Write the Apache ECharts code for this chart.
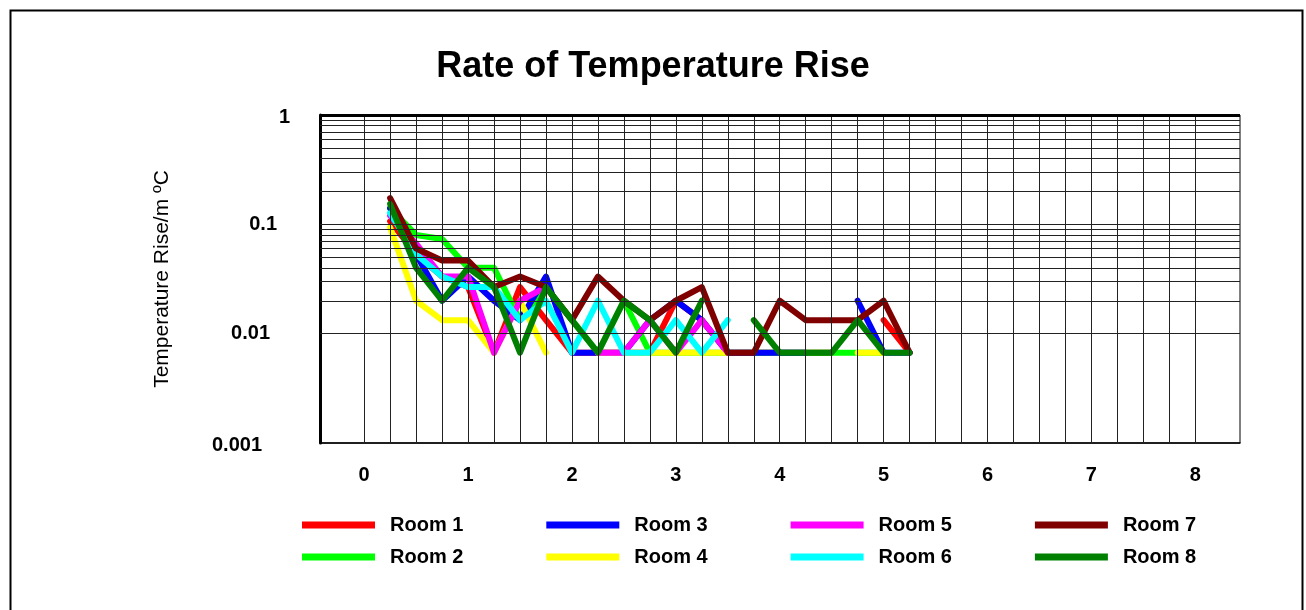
<!DOCTYPE html>
<html>
<head>
<meta charset="utf-8">
<script src="https://cdn.jsdelivr.net/npm/echarts@6/dist/echarts.min.js"></script>
<style>html,body{margin:0;padding:0;background:#fff;}#c{width:1306px;height:610px;}</style>
</head>
<body>
<div id="c"></div>
<script>
// ---- data ----
const hours = [0.25,0.5,0.75,1,1.25,1.5,1.75,2,2.25,2.5,2.75,3,3.25,3.5,3.75,4,4.25,4.5,4.75,5,5.25];
const roomNames = ['Room 1','Room 2','Room 3','Room 4','Room 5','Room 6','Room 7','Room 8'];
const roomColors = ['#FF0000','#00FF00','#0000FF','#FFFF00','#FF00FF','#00FFFF','#800000','#008000'];
const room1 = [0.1067,0.0533,0.0333,0.0267,0.0067,0.0267,0.0133,0.0067,0.0067,0.0067,0.0067,0.02,0.0133,0.0067,0.0067,0.0067,0.0067,0.0067,null,0.0133,0.0067];
const room2 = [0.14,0.08,0.0733,0.04,0.04,0.0133,0.0267,0.0133,0.0067,0.02,0.0067,0.0067,0.0067,0.0067,0.0067,0.0067,0.0067,0.0067,0.0067,0.0067,null];
const room3 = [0.14,0.0533,0.02,0.0333,0.02,0.0133,0.0333,0.0067,0.0067,0.0067,0.0133,0.02,0.0133,0.0067,0.0067,0.0067,0.0067,null,0.02,0.0067,0.0067];
const room4 = [0.0933,0.02,0.0133,0.0133,0.0067,0.02,0.0067,null,0.0067,0.0067,0.0067,0.0067,0.0067,0.0067,null,null,null,null,0.0067,0.0067,null];
const room5 = [0.12,0.0667,0.0333,0.0333,0.0067,0.02,0.0267,null,0.0067,0.0067,0.0133,0.0067,0.0133,0.0067,null,null,null,null,null,null,null];
const room6 = [0.1267,0.0533,0.0333,0.0267,0.0267,0.0133,0.02,0.0067,0.02,0.0067,0.0067,0.0133,0.0067,0.0133,null,null,null,null,null,null,null];
const room7 = [0.1733,0.06,0.0467,0.0467,0.0267,0.0333,0.0267,0.0133,0.0333,0.02,0.0133,0.02,0.0267,0.0067,0.0067,0.02,0.0133,0.0133,0.0133,0.02,0.0067];
const room8 = [0.1533,0.04,0.02,0.04,0.0267,0.0067,0.0267,0.0133,0.0067,0.02,0.0133,0.0067,0.02,null,0.0133,0.0067,0.0067,0.0067,0.0133,0.0067,0.0067];
const xTickLabels = [0,1,2,3,4,5,6,7,8];
const yTickLabels = [0.001,0.01,0.1,1];
const xMin = -0.425, xMax = 8.43;

// ---- build ----
const rooms = [room1,room2,room3,room4,room5,room6,room7,room8];
const FONT = '"Liberation Sans", Arial, sans-serif';

const vGrid = [];
for (let v = 0; v <= 8.0001; v += 0.25) vGrid.push({xAxis: v});
const hGrid = [];
[0.001,0.01,0.1].forEach(d => { for (let m = 1; m <= 9; m++) hGrid.push({yAxis: d*m}); });

const series = [{
  type: 'line', data: [], z: 1, silent: true,
  markLine: {
    silent: true, symbol: 'none', animation: false,
    label: {show: false},
    lineStyle: {type: 'solid', color: '#222', width: 1},
    data: vGrid.concat(hGrid)
  }
},{
  type: 'line', data: [], z: 1, silent: true,
  markLine: {
    silent: true, symbol: 'none', animation: false,
    label: {show: false},
    lineStyle: {type: 'solid', color: '#000', width: 3},
    data: [{yAxis: 1}]
  }
}];
rooms.forEach((vals, i) => {
  series.push({
    name: roomNames[i], type: 'line', z: 2,
    showSymbol: false, symbol: 'none', connectNulls: false,
    lineStyle: {color: roomColors[i], width: 6, cap: 'round', join: 'round'},
    itemStyle: {color: roomColors[i]},
    data: hours.map((h, k) => [h, vals[k] == null ? null : vals[k]]),
    animation: false
  });
});

const legends = roomNames.map((n, i) => ({
  data: [n],
  left: 302 + Math.floor(i/2) * 244.3,
  top: 514 + (i % 2) * 32,
  padding: 0,
  icon: 'rect',
  itemWidth: 73, itemHeight: 7,
  textStyle: {fontFamily: FONT, fontWeight: 'bold', fontSize: 20, color: '#000', lineHeight: 22, padding: [0,0,0,10]},
  selectedMode: false
}));

const option = {
  backgroundColor: '#fff',
  animation: false,
  title: {
    text: 'Rate of Temperature Rise', left: 'center', top: 44,
    textStyle: {fontFamily: FONT, fontWeight: 'bold', fontSize: 36, color: '#000'}
  },
  legend: legends,
  grid: {left: 320, top: 115, right: 66, bottom: 167, show: true, borderColor: '#000', borderWidth: 1, containLabel: false},
  xAxis: {
    type: 'value', min: xMin, max: xMax,
    axisLine: {show: true, onZero: false, lineStyle: {color: '#000', width: 1.5}},
    axisTick: {show: false},
    splitLine: {show: false},
    axisLabel: {
      customValues: xTickLabels, margin: 22,
      fontFamily: FONT, fontWeight: 'bold', fontSize: 20, color: '#000'
    }
  },
  yAxis: {
    type: 'log', logBase: 10, min: 0.001, max: 1,
    name: 'Temperature Rise/m ºC', nameLocation: 'middle', nameGap: 147,
    nameTextStyle: {fontFamily: FONT, fontSize: 21, color: '#000'},
    axisLine: {show: true, onZero: false, lineStyle: {color: '#000', width: 3}},
    axisTick: {show: false},
    splitLine: {show: false},
    minorTick: {show: false},
    axisLabel: {
      margin: 30,
      formatter: function (v) {
        const s = String(Number(Number(v).toPrecision(3)));
        const key = s === '1' ? 'a' : s === '0.1' ? 'b' : s === '0.01' ? 'c' : 'd';
        return '{' + key + '|' + s + '}';
      },
      rich: {
        a: {fontFamily: FONT, fontWeight: 'bold', fontSize: 20, color: '#000', padding: [4,0,0,0]},
        b: {fontFamily: FONT, fontWeight: 'bold', fontSize: 20, color: '#000', padding: [0,13,0,0]},
        c: {fontFamily: FONT, fontWeight: 'bold', fontSize: 20, color: '#000', padding: [0,20,0,0]},
        d: {fontFamily: FONT, fontWeight: 'bold', fontSize: 20, color: '#000', padding: [4,28,0,0]}
      }
    }
  },
  graphic: [{
    type: 'rect', left: 8, top: 8, silent: true, z: 0,
    shape: {width: 1292, height: 640},
    style: {fill: 'none', stroke: '#000', lineWidth: 2}
  }],
  series: series
};

const chart = echarts.init(document.getElementById('c'), null, {renderer: 'canvas'});
chart.setOption(option);
</script>
</body>
</html>
